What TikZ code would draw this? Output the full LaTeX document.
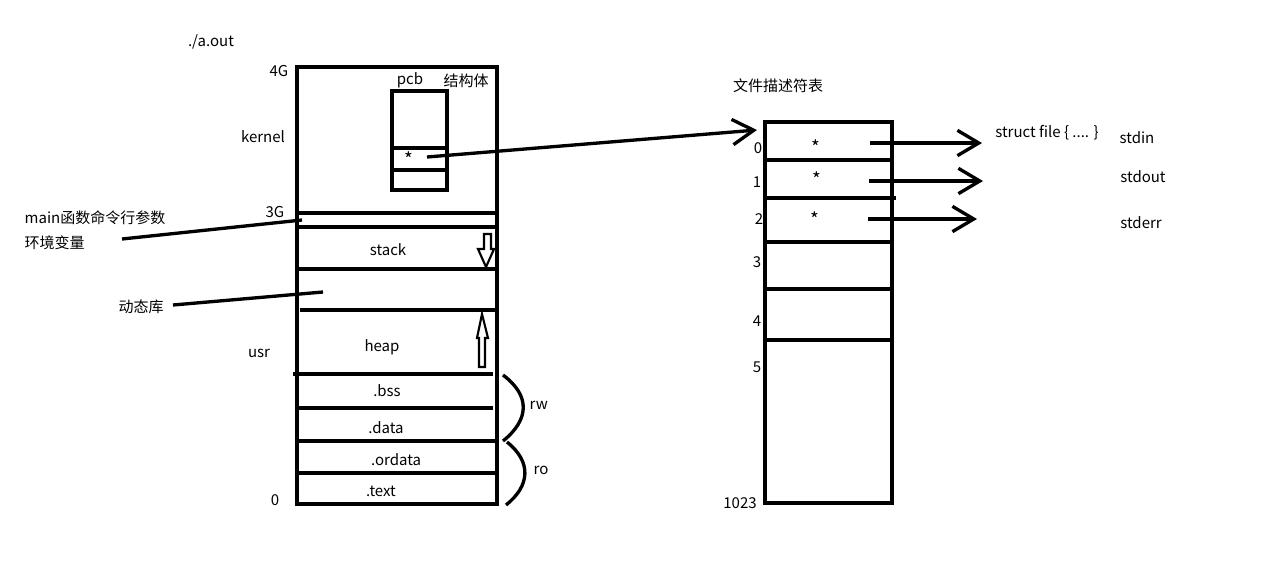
\documentclass[tikz,border=0pt]{standalone}
\usepackage{fontspec}
\setmainfont{Noto Sans CJK SC}
\usetikzlibrary{arrows.meta}
\begin{document}
\begin{tikzpicture}[x=0.75pt,y=-0.75pt,line width=2.5pt,
  lbl/.style={font=\fontsize{11.25}{13}\selectfont,inner sep=0pt,text=black},
  star/.style={font=\fontsize{14}{16}\selectfont,inner sep=0pt,text=black},
  barb/.style={-{Straight Barb[length=16pt,width=19pt]}},
  hollow/.style={line width=1.6pt,line join=miter}]
% canvas
\path[fill=white,use as bounding box] (0,0) rectangle (1273,572);

% ---------- process address space ----------
\draw (297,67) rectangle (497,504);
\draw (297,213) -- (497,213);
\draw (297,227) -- (497,227);
\draw (297,269) -- (497,269);
\draw (300,310) -- (497,310);
\draw (293,374) -- (493,374);
\draw (297,408) -- (493,408);
\draw (297,441) -- (497,441);
\draw (297,473) -- (497,473);

% pcb structure inside kernel space
\draw (392,91) rectangle (447,190);
\draw (392,148) -- (447,148);
\draw (392,170) -- (447,170);

% stack grows down, heap grows up
\draw[hollow] (484,234) -- (491,234) -- (491,249) -- (494,249) -- (486,267)
  -- (478,249) -- (484,249) -- cycle;
\draw[hollow] (482,314) -- (488,338) -- (485,338) -- (485,367) -- (479,367)
  -- (479,338) -- (477,338) -- cycle;

% rw / ro braces
\draw (503,375) .. controls (531,396) and (529,420) .. (503,441);
\draw (507,442) .. controls (532,462) and (530,486) .. (506,505);

% labels of the address space
\node[lbl] (aout) at (211,42) {./a.out};
\node[lbl] (g4) at (279,71) {4G};
\node[lbl] (pcb) at (410,80) {pcb};
\node[lbl] (struct) at (466,81) {结构体};
\node[lbl] (kernel) at (263,137) {kernel};
\node[lbl] (g3) at (275,212) {3G};
\node[lbl] (usr) at (259,353) {usr};
\node[lbl] (zero) at (275,500) {0};
\node[star] (pcbstar) at (409,159) {*};
\node[lbl] (stack) at (388,250) {stack};
\node[lbl] (heap) at (382,347) {heap};
\node[lbl] (bss) at (387,391) {.bss};
\node[lbl] (data) at (386,428) {.data};
\node[lbl] (ordata) at (396,460) {.ordata};
\node[lbl] (text) at (381,491) {.text};
\node[lbl,anchor=west] (rw) at (528,405) {rw};
\node[lbl,anchor=west] (ro) at (532,470) {ro};

% notes on the left
\node[lbl,anchor=west] (args) at (23,218) {main函数命令行参数};
\node[lbl,anchor=west] (env) at (23,243) {环境变量};
\node[lbl,anchor=west] (dyn) at (117,307) {动态库};
\coordinate (argsL) at (122,239);
\coordinate (argsR) at (302,220);
\coordinate (dynL) at (173,305);
\coordinate (dynR) at (323,292);
\draw (argsL) -- (argsR);
\draw (dynL) -- (dynR);

% ---------- file descriptor table ----------
\node[lbl] (fdt) at (778,86) {文件描述符表};
\draw (765,122) rectangle (892,503);
\draw (765,160) -- (892,160);
\draw (763,198) -- (896,198);
\draw (763,242) -- (892,242);
\draw (765,289) -- (894,289);
\draw (763,340) -- (892,340);

\node[lbl] (i0) at (758,148) {0};
\node[lbl] (i1) at (757,182) {1};
\node[lbl] (i2) at (759,219) {2};
\node[lbl] (i3) at (757,262) {3};
\node[lbl] (i4) at (757,321) {4};
\node[lbl] (i5) at (757,367) {5};
\node[lbl] (i1023) at (740,503) {1023};
\node[star] (s0) at (816,147) {*};
\node[star] (s1) at (817,179) {*};
\node[star] (s2) at (815,219) {*};

% pointer from pcb to the table
\coordinate (pcbptr) at (427,157);
\coordinate (fdtop) at (757,130);
\draw[barb] (pcbptr) -- (fdtop);

% table entries pointing to file structures
\coordinate (e0) at (870,143);
\coordinate (e1) at (869,181);
\coordinate (e2) at (868,219);
\coordinate (f0) at (982,143);
\coordinate (f1) at (983,181);
\coordinate (f2) at (977,219);
\draw[barb] (e0) -- (f0);
\draw[barb] (e1) -- (f1);
\draw[barb] (e2) -- (f2);

\node[lbl] (sfile) at (1047,133) {struct file \{ .... \}};
\node[lbl] (stdin) at (1137,138) {stdin};
\node[lbl] (stdout) at (1143,177) {stdout};
\node[lbl] (stderr) at (1141,223) {stderr};
\end{tikzpicture}
\end{document}
